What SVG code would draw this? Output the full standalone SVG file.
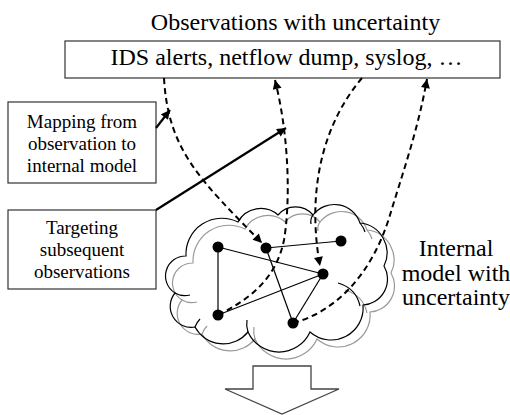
<svg xmlns="http://www.w3.org/2000/svg" xmlns:xlink="http://www.w3.org/1999/xlink" width="510" height="415" viewBox="0 0 510 415">
  <style>
    text { font-family: "Liberation Serif", "Times New Roman", serif; fill: #000; text-anchor: middle; }
    .big { font-size: 24px; }
    .small { font-size: 19px; }
    .box { fill: #fff; stroke: #333; stroke-width: 1.2; }
    .edge { fill: none; stroke: #000; stroke-width: 1.2; }
    .flow { fill: none; stroke: #000; stroke-width: 2; stroke-dasharray: 6 4; }
    .pointer { fill: none; stroke: #000; stroke-width: 2.2; }
    .node { fill: #000; }
  </style>
  <defs>
    <marker id="head" viewBox="0 0 10 10" refX="10" refY="5" markerWidth="11" markerHeight="9" markerUnits="userSpaceOnUse" orient="auto">
      <path d="M0,0 L10,5 L0,10 z" fill="#000"/>
    </marker>
    <!-- cloud outline built from circular bumps plus short inner arcs -->
    <g id="cloudShape" fill="none">
      <path d="M195,327 A21,21 0 0 1 175,293 A20,20 0 0 1 186,256 A36,36 0 0 1 238,222 A26,26 0 0 1 278,215 A23,23 0 0 1 313,215 A27,27 0 0 1 360,223 A30,30 0 0 1 384,266 A26,26 0 0 1 363,305 A32,32 0 0 1 310,332 A34,34 0 0 1 248,332 A32,32 0 0 1 195,327 Z"/>
      <path d="M175,293 Q182,297 190,295"/>
      <path d="M248,332 Q246,326 247,320"/>
      <path d="M338,283 Q356,288 360,306"/>
      <path d="M313,215 Q310,219 311,224"/>
      <path d="M360,223 Q364,228 365,232"/>
      <path d="M195,327 Q197,322 200,319"/>
    </g>
  </defs>

  <!-- heading -->
  <text class="big" x="295.5" y="30">Observations with uncertainty</text>

  <g id="observations">
    <rect class="box" x="65" y="41" width="435" height="37"/>
    <text class="big" x="286.5" y="65">IDS alerts, netflow dump, syslog, …</text>
  </g>

  <g id="mapping">
    <rect class="box" x="8" y="102" width="148" height="81"/>
    <text class="small" x="82" y="128">Mapping from</text>
    <text class="small" x="82" y="150">observation to</text>
    <text class="small" x="82" y="172">internal model</text>
  </g>

  <g id="targeting">
    <rect class="box" x="8" y="210" width="148" height="79"/>
    <text class="small" x="82" y="234">Targeting</text>
    <text class="small" x="82" y="256">subsequent</text>
    <text class="small" x="82" y="278">observations</text>
  </g>

  <g id="model-cloud">
    <use xlink:href="#cloudShape" href="#cloudShape" transform="translate(7,7)" stroke="#999" stroke-width="1.2"/>
    <use xlink:href="#cloudShape" href="#cloudShape" stroke="#000" stroke-width="1.2"/>
  </g>

  <g id="model-label">
    <text class="big" x="456" y="256">Internal</text>
    <text class="big" x="456" y="281">model with</text>
    <text class="big" x="456" y="305">uncertainty</text>
  </g>

  <g id="connectors">
    <!-- graph edges inside the model -->
    <line class="edge" x1="218" y1="247" x2="218" y2="315"/>
    <line class="edge" x1="218" y1="247" x2="323" y2="274"/>
    <line class="edge" x1="266" y1="248" x2="341" y2="241"/>
    <line class="edge" x1="266" y1="248" x2="293" y2="323"/>
    <line class="edge" x1="218" y1="315" x2="323" y2="274"/>
    <line class="edge" x1="323" y1="274" x2="293" y2="323"/>
    <!-- observation flows -->
    <path class="flow" d="M164,78 C168,150 200,180 262,243" marker-end="url(#head)"/>
    <path class="flow" d="M218,315 C248,300 276,280 284,240 C290,205 290,140 275,80" marker-end="url(#head)"/>
    <path class="flow" d="M362,78 C318,130 308,200 320,266" marker-end="url(#head)"/>
    <path class="flow" d="M293,323 C335,312 372,275 390,215 C402,175 418,130 427,79" marker-end="url(#head)"/>
    <!-- callout pointers -->
    <line class="pointer" x1="156" y1="128" x2="170" y2="110" marker-end="url(#head)"/>
    <line class="pointer" x1="156" y1="210" x2="286" y2="128" marker-end="url(#head)"/>
  </g>

  <g id="model-nodes">
    <circle class="node" cx="218" cy="247" r="5.5"/>
    <circle class="node" cx="266" cy="248" r="5.5"/>
    <circle class="node" cx="341" cy="241" r="5.5"/>
    <circle class="node" cx="323" cy="274" r="5.5"/>
    <circle class="node" cx="218" cy="315" r="5.5"/>
    <circle class="node" cx="293" cy="323" r="5.5"/>
  </g>

  <g id="output-arrow">
    <polygon points="253,366 311,366 311,389 339,389 282,414 225,389 253,389" fill="#fff" stroke="#444" stroke-width="1.3"/>
  </g>
</svg>
